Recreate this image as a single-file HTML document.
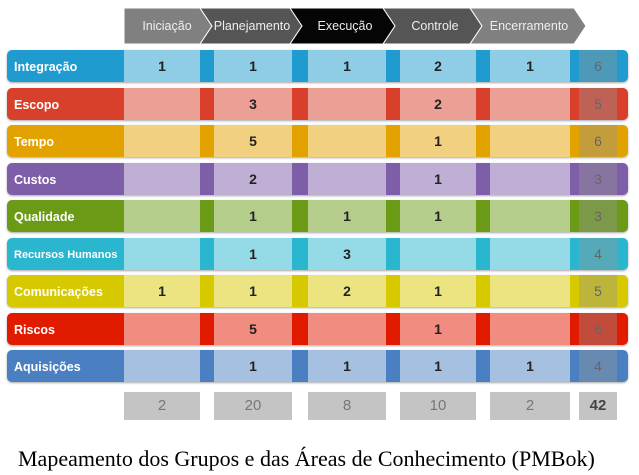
<!DOCTYPE html>
<html><head><meta charset="utf-8"><style>
body{margin:0;width:639px;height:475px;background:#fff;font-family:"Liberation Sans",sans-serif;position:relative;overflow:hidden}
.a{position:absolute}
.row{position:absolute;left:7px;width:621px;height:32px;border-radius:5px;box-shadow:0 1px 2px rgba(0,0,0,.35)}
.row span{position:absolute;left:7px;top:10px;color:#fff;font-weight:bold;font-size:12.5px}
.ov{position:absolute;background:rgba(255,255,255,.5);text-align:center;font-size:14px;color:#222;line-height:32px;height:32px;font-weight:bold}
.c6{background:rgba(150,150,150,.4);color:#666;font-weight:normal}
.tot{position:absolute;top:392px;height:28px;background:#c4c4c4;color:#777;text-align:center;line-height:28px;font-size:15px}
.hd{position:absolute;top:8px;height:36px;color:#eee;font-size:12.5px;line-height:36px;text-align:center}
</style></head><body>
<svg class="a" style="left:0;top:0" width="639" height="50">
<polygon points="124,8 200,8 212,26 200,44 124,44" fill="#808080" stroke="#fff"/>
<polygon points="200,8 290,8 302,26 290,44 200,44 212,26" fill="#555" stroke="#fff"/>
<polygon points="290,8 383,8 395,26 383,44 290,44 302,26" fill="#050505" stroke="#fff"/>
<polygon points="383,8 470,8 482,26 470,44 383,44 395,26" fill="#555" stroke="#fff"/>
<polygon points="470,8 574,8 586,26 574,44 470,44 482,26" fill="#808080" stroke="#fff"/>
</svg>
<div class="hd" style="left:128px;width:78px">Iniciação</div>
<div class="hd" style="left:206px;width:92px">Planejamento</div>
<div class="hd" style="left:300px;width:90px">Execução</div>
<div class="hd" style="left:392px;width:86px">Controle</div>
<div class="hd" style="left:480px;width:98px">Encerramento</div>
<div id="rows"></div>
<div class="tot" style="left:124px;width:76px">2</div>
<div class="tot" style="left:214px;width:78px">20</div>
<div class="tot" style="left:308px;width:78px">8</div>
<div class="tot" style="left:400px;width:76px">10</div>
<div class="tot" style="left:490px;width:80px">2</div>
<div class="tot" style="left:579px;width:38px;color:#444;font-weight:bold">42</div>
<div class="a" style="left:18px;top:446px;font-family:'Liberation Serif',serif;font-size:22px;color:#000">Mapeamento dos Grupos e das Áreas de Conhecimento (PMBok)</div>
<script>
var R=[["Integração","#1f9bcf",["1","1","1","2","1","6"]],["Escopo","#d8402b",["","3","","2","","5"]],["Tempo","#e2a200",["","5","","1","","6"]],["Custos","#7e5ea8",["","2","","1","","3"]],["Qualidade","#6b9a17",["","1","1","1","","3"]],["Recursos Humanos","#2ab6cf",["","1","3","","","4"]],["Comunicações","#d7c900",["1","1","2","1","","5"]],["Riscos","#e01b00",["","5","","1","","6"]],["Aquisições","#4a80c2",["","1","1","1","1","4"]]];
var C=[[124,76],[214,78],[308,78],[400,76],[490,80],[579,38]];
var h="";
R.forEach(function(r,i){var y=50+i*37.5;
h+='<div class="row" style="top:'+y+'px;background:'+r[1]+'"><span'+(i==5?' style="font-size:11px;top:11px"':'')+'>'+r[0]+'</span></div>';
C.forEach(function(c,j){h+='<div class="ov'+(j==5?' c6':'')+'" style="left:'+c[0]+'px;width:'+c[1]+'px;top:'+y+'px">'+r[2][j]+'</div>';});});
document.getElementById("rows").innerHTML=h;
</script>
</body></html>
